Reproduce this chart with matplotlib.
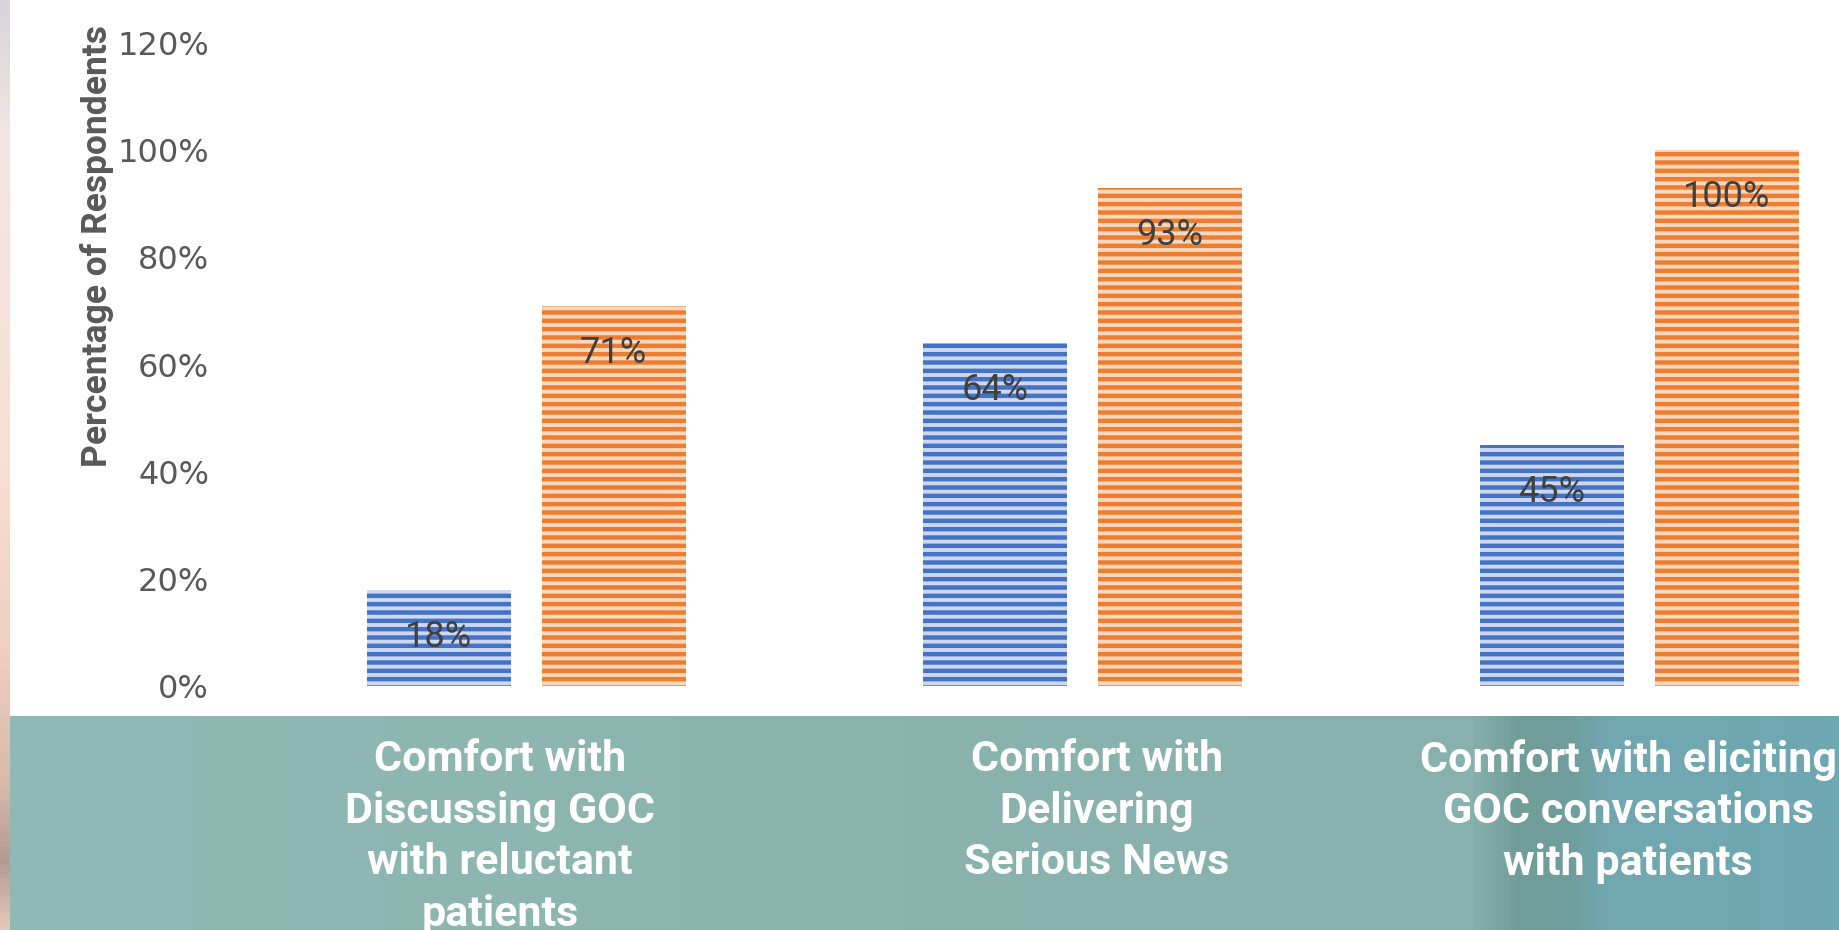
import numpy as np
import matplotlib
matplotlib.use("Agg")
import matplotlib.pyplot as plt
from matplotlib.colors import LinearSegmentedColormap
from matplotlib.transforms import blended_transform_factory

categories = ["Comfort with\nDiscussing GOC\nwith reluctant\npatients",
              "Comfort with\nDelivering\nSerious News",
              "Comfort with eliciting\nGOC conversations\nwith patients"]
before = [0.18, 0.64, 0.45]   # blue series
after = [0.71, 0.93, 1.00]    # orange series
yticks = [0, 0.2, 0.4, 0.6, 0.8, 1.0, 1.2]
ylabel = "Percentage of Respondents"

W, H = 1840, 930
fig = plt.figure(figsize=(W / 100, H / 100), dpi=100)

# background: white chart area, teal band at the bottom, pinkish strip on the left
bg = fig.add_axes([0, 0, 1, 1], zorder=-5)
bg.set_xlim(0, W)
bg.set_ylim(H, 0)
bg.axis("off")
bg.add_patch(plt.Rectangle((0, 0), W, H, color="white"))
teal = LinearSegmentedColormap.from_list(
    "teal", [(0, "#90b8b4"), (0.3, "#8eb6b1"), (0.55, "#8ab2ad"), (0.8, "#88b1ad"),
             (0.825, "#729d99"), (0.855, "#6f9e9c"), (0.875, "#72a7b0"), (1, "#6ea8b3")])
bg.imshow(np.linspace(0, 1, 600)[None, :], cmap=teal, aspect="auto",
          extent=[8, W, H, 716], zorder=1)
strip = LinearSegmentedColormap.from_list(
    "strip", [(0, "#d8d4dc"), (0.15, "#f3e6e2"), (0.5, "#f8dfd3"),
              (0.7, "#eecfc2"), (0.85, "#d9b7ab"), (0.93, "#b29b96"), (1, "#e4c6ba")])
bg.imshow(np.linspace(0, 1, 200)[:, None], cmap=strip, aspect="auto",
          extent=[0, 10, H, 0], zorder=2)

# chart
left, top, bottom = 248, 43, 686
ax = fig.add_axes([left / W, 1 - bottom / H, 1 - left / W, (bottom - top) / H])
ax.patch.set_alpha(0)
spacing = 556.5
ax.set_xlim(-0.5, -0.5 + (W - left) / spacing)
ax.set_ylim(0, 1.2)

x = np.arange(len(categories))
bw = 0.259
off = 0.157
plt.rcParams["hatch.linewidth"] = 3.2
b1 = ax.bar(x - off, before, bw, color="#cdd8ef", edgecolor="#4472c4", hatch="--", linewidth=0)
b2 = ax.bar(x + off, after, bw, color="#fbd8bd", edgecolor="#ed7d31", hatch="--", linewidth=0)

for bars, vals in [(b1, before), (b2, after)]:
    for r, v in zip(bars, vals):
        ax.annotate(f"{v:.0%}", (r.get_x() + r.get_width() / 2, v), xytext=(0, -34),
                    textcoords="offset points", ha="center", va="center",
                    fontsize=26, family="Roboto", color="#404040")

ax.set_xticks([])
ax.set_yticks(yticks)
ax.set_yticklabels([f"{t:.0%}" for t in yticks], fontsize=23, color="#595959")
ax.tick_params(axis="y", length=0, pad=28)
for s in ax.spines.values():
    s.set_visible(False)

ax.set_ylabel(ylabel, fontsize=25.5, fontweight="bold", family="Roboto", color="#595959")
ax.yaxis.set_label_coords(-0.084, 0.684)

# category labels on the teal band
tr = blended_transform_factory(ax.transData, fig.transFigure)
nudge = [-0.047, 0.025, -0.02]
for i, c in enumerate(categories):
    fig.text(x[i] + nudge[i], 1 - 739 / H, c, transform=tr, ha="center", va="top",
             fontsize=31, fontweight="bold", family="Roboto", color="white",
             linespacing=1.33)

fig.savefig("out.png", dpi=100)
